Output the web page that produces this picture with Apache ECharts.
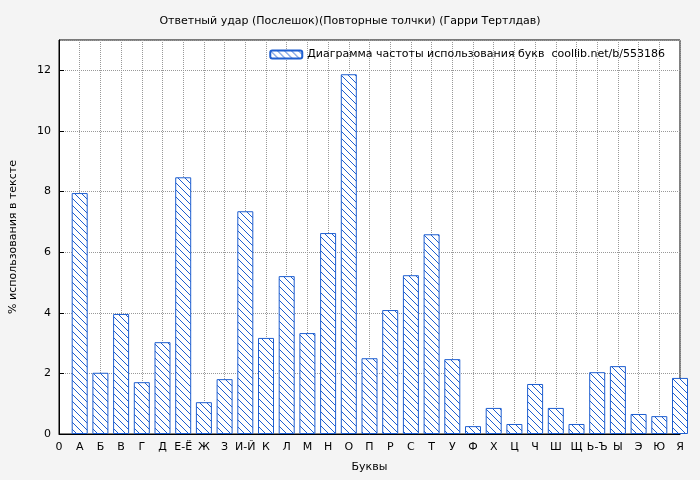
<!DOCTYPE html>
<html>
<head>
<meta charset="utf-8">
<script src="https://cdn.jsdelivr.net/npm/echarts@6/dist/echarts.min.js"></script>
<style>html,body{margin:0;padding:0;background:#f4f4f4}#chart{width:700px;height:480px}</style>
</head>
<body>
<div id="chart"></div>
<script>
// буквы и проценты
var letters = ['0', 'А', 'Б', 'В', 'Г', 'Д', 'Е-Ё', 'Ж', 'З', 'И-Й', 'К', 'Л', 'М', 'Н', 'О', 'П', 'Р', 'С', 'Т', 'У', 'Ф', 'Х', 'Ц', 'Ч', 'Ш', 'Щ', 'Ь-Ъ', 'Ы', 'Э', 'Ю', 'Я'];
var percents = ['-', 7.95, 2.02, 3.96, 1.71, 3.03, 8.47, 1.05, 1.81, 7.35, 3.17, 5.21, 3.33, 6.63, 11.87, 2.5, 4.09, 5.24, 6.59, 2.47, 0.26, 0.86, 0.33, 1.65, 0.86, 0.33, 2.04, 2.24, 0.66, 0.59, 1.85];
var seriesName = 'Диаграмма частоты использования букв  coollib.net/b/553186';

function hatch() {
  var c = document.createElement('canvas');
  c.width = 7; c.height = 7;
  var ctx = c.getContext('2d');
  ctx.fillStyle = '#fff';
  ctx.fillRect(0, 0, 7, 7);
  ctx.strokeStyle = '#1f5fd0';
  ctx.lineWidth = 1;
  ctx.beginPath();
  ctx.moveTo(-1, -1); ctx.lineTo(8, 8);
  ctx.moveTo(-1, 6); ctx.lineTo(1, 8);
  ctx.moveTo(6, -1); ctx.lineTo(8, 1);
  ctx.stroke();
  return c;
}

var chart = echarts.init(document.getElementById('chart'));
var font = 'DejaVu Sans';
chart.setOption({
  backgroundColor: '#f4f4f4',
  textStyle: { fontFamily: font },
  title: {
    text: 'Ответный удар (Послешок)(Повторные толчки) (Гарри Тертлдав)',
    left: 'center', top: 11,
    textStyle: { fontSize: 11, fontWeight: 'normal', color: '#000', fontFamily: font }
  },
  legend: {
    data: [seriesName],
    right: 30, top: 44, itemWidth: 32, itemHeight: 8,
    textStyle: { fontSize: 11, color: '#000', fontFamily: font }
  },
  grid: { left: 55, right: 20, top: 40, bottom: 46, show: true, backgroundColor: '#fff', borderColor: '#000', borderWidth: 1 },
  xAxis: {
    type: 'category', data: letters, boundaryGap: false,
    name: 'Буквы', nameLocation: 'middle', nameGap: 28,
    nameTextStyle: { fontSize: 11, color: '#000' },
    axisLabel: { fontSize: 11, color: '#000', interval: 0 },
    axisLine: { lineStyle: { color: '#000' } },
    axisTick: { show: false },
    splitLine: { show: true, lineStyle: { color: '#999', type: 'dotted' } }
  },
  yAxis: {
    type: 'value', min: 0, max: 13, interval: 2,
    name: '% использования в тексте', nameLocation: 'middle', nameGap: 40,
    nameTextStyle: { fontSize: 11, color: '#000' },
    axisLabel: { fontSize: 11, color: '#000', showMaxLabel: false },
    axisLine: { show: true, lineStyle: { color: '#000' } },
    axisTick: { show: true, inside: true, lineStyle: { color: '#000' } },
    splitLine: { show: true, lineStyle: { color: '#999', type: 'dotted' } }
  },
  series: [{
    name: seriesName, type: 'bar', data: percents, barWidth: 16, clip: true,
    itemStyle: { color: { image: hatch(), repeat: 'repeat' }, borderColor: '#1f5fd0', borderWidth: 1 }
  }]
});
</script>
</body>
</html>
